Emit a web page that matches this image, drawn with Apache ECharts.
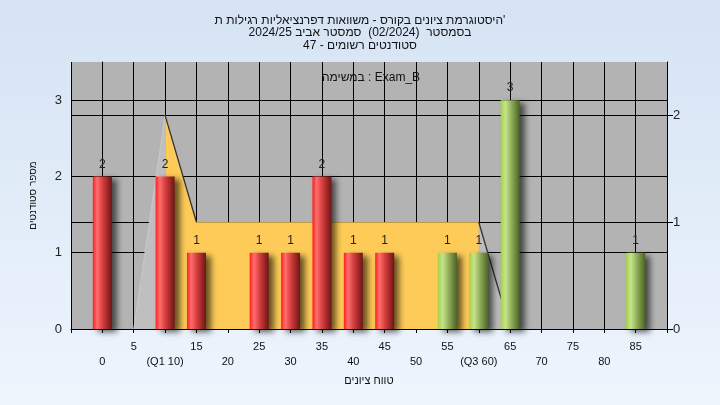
<!DOCTYPE html>
<html>
<head>
<meta charset="utf-8">
<script src="https://cdn.jsdelivr.net/npm/echarts@6/dist/echarts.min.js"></script>
<style>
html,body{margin:0;padding:0;}
#c{width:720px;height:405px;background:linear-gradient(#d5e3f4,#eef5fd);}
</style>
</head>
<body>
<div id="c"></div>
<script>
// ---- data ----
const titleLines = [
  "היסטוגרמת ציונים בקורס - משוואות דפרנציאליות רגילות ת'",
  "בסמסטר  (02/2024)  סמסטר אביב 2024/25",
  "סטודנטים רשומים - 47"
];
const subtitleText = "במשימה : Exam_B";
const xAxisName = "טווח ציונים";
const yAxisName = "מספר סטודנטים";

const tickValues = [0,5,10,15,20,25,30,35,40,45,50,55,60,65,70,75,80,85];
const tickTexts  = ['0','5','(Q1 10)','15','20','25','30','35','40','45','50','55','(Q3 60)','65','70','75','80','85'];

const redX = [0, 10, 15, 25, 30, 35, 40, 45];
const redY = [2, 2, 1, 1, 1, 2, 1, 1];
const greenX = [55, 60, 65, 85];
const greenY = [1, 1, 3, 1];

// distribution shape (right axis)
const shapeX = [5, 10, 15, 60, 65];
const shapeY = [0, 2, 1, 1, 0];

// ---- chart ----
const pairs = (xs, ys) => xs.map((x, i) => [x, ys[i]]);
const shape = pairs(shapeX, shapeY);

const font = "'Liberation Sans','DejaVu Sans',Arial,sans-serif";

const redGrad = {type:'linear',x:0,y:0,x2:1,y2:0,colorStops:[
  {offset:0,color:'#ff1e1e'},{offset:0.22,color:'#ff6e6e'},{offset:0.5,color:'#d94040'},{offset:1,color:'#6e1414'}]};
const greenGrad = {type:'linear',x:0,y:0,x2:1,y2:0,colorStops:[
  {offset:0,color:'#a6d046'},{offset:0.25,color:'#c6e48c'},{offset:0.55,color:'#94b05c'},{offset:1,color:'#4a6424'}]};

const barCommon = {
  type:'bar', barWidth:19, barGap:'-100%', z:5,
  label:{show:true, position:'top', distance:6, color:'#222', fontSize:12, fontFamily:font},
};
const shadow = {shadowBlur:6, shadowOffsetX:5, shadowOffsetY:3, shadowColor:'rgba(0,0,0,0.6)'};

const chart = echarts.init(document.getElementById('c'), null, {renderer:'canvas'});
chart.setOption({
  backgroundColor:'transparent',
  animation:false,
  title:[{
    text: titleLines.join('\n'),
    left:'center', top:9,
    textStyle:{fontSize:12, fontWeight:'normal', color:'#111', fontFamily:font, lineHeight:12.5}
  },{
    text: subtitleText,
    left:366, textAlign:'center', top:67,
    textStyle:{fontSize:12, fontWeight:'normal', color:'#111', fontFamily:font}
  }],
  grid:{left:71, right:53, top:62, bottom:76, show:true, backgroundColor:'#b3b3b3', borderWidth:0},
  xAxis:{
    type:'value', min:-5, max:90, interval:5,
    name:xAxisName, nameLocation:'middle', nameGap:46,
    nameTextStyle:{fontSize:11, color:'#111', fontFamily:font},
    axisLine:{show:true, lineStyle:{color:'#000', width:1}},
    axisTick:{show:true, length:4, lineStyle:{color:'#000'}},
    splitLine:{show:true, lineStyle:{color:'#000', width:1}},
    axisLabel:{
      margin:10, lineHeight:15, fontSize:11, color:'#111', fontFamily:font,
      formatter:(v)=>{
        const i = tickValues.indexOf(v);
        if (i < 0) return '';
        return (i % 2 === 1) ? tickTexts[i] : '\n' + tickTexts[i];
      }
    }
  },
  yAxis:[{
    type:'value', min:0, max:3.5, interval:1, position:'left',
    name:yAxisName, nameLocation:'middle', nameGap:33,
    nameTextStyle:{fontSize:10, color:'#111', fontFamily:font},
    axisLine:{show:true, lineStyle:{color:'#000'}},
    axisTick:{show:true, length:7, lineStyle:{color:'#000'}},
    axisLabel:{margin:9, fontSize:13, color:'#222', fontFamily:font, showMaxLabel:false,
      formatter:(v)=> Number.isInteger(v) ? String(v) : ''},
    splitLine:{show:true, showMaxLine:false, lineStyle:{color:'#000'}}
  },{
    type:'value', min:0, max:2.5, interval:1, position:'right',
    axisLine:{show:true, lineStyle:{color:'#000'}},
    axisTick:{show:true, length:6, lineStyle:{color:'#000'}},
    axisLabel:{margin:6, fontSize:13, color:'#222', fontFamily:font, showMaxLabel:false,
      formatter:(v)=> Number.isInteger(v) ? String(v) : ''},
    splitLine:{show:true, showMaxLine:false, lineStyle:{color:'#000'}}
  }],
  series:[
    {type:'line', yAxisIndex:1, data:shape.slice(0,2), symbol:'none', z:2,
     lineStyle:{color:'#c8c8c8', width:1}, areaStyle:{color:'#bfbfbf', opacity:1}},
    {type:'line', yAxisIndex:1, data:shape.slice(1,4), symbol:'none', z:2,
     lineStyle:{width:0}, areaStyle:{color:'#fecb58', opacity:1}},
    {type:'line', yAxisIndex:1, data:shape.slice(3,5), symbol:'none', z:2,
     lineStyle:{width:0}, areaStyle:{color:'#bdbdbd', opacity:1}},
    {type:'line', yAxisIndex:1, data:shape.slice(1,3), symbol:'none', z:3,
     lineStyle:{color:'#333', width:1.3}},
    {type:'line', yAxisIndex:1, data:shape.slice(3,5), symbol:'none', z:3,
     lineStyle:{color:'#333', width:1.3}},
    Object.assign({}, barCommon, {data:pairs(redX, redY), itemStyle:Object.assign({color:redGrad}, shadow)}),
    Object.assign({}, barCommon, {data:pairs(greenX, greenY), itemStyle:Object.assign({color:greenGrad}, shadow)})
  ]
});
</script>
</body>
</html>
